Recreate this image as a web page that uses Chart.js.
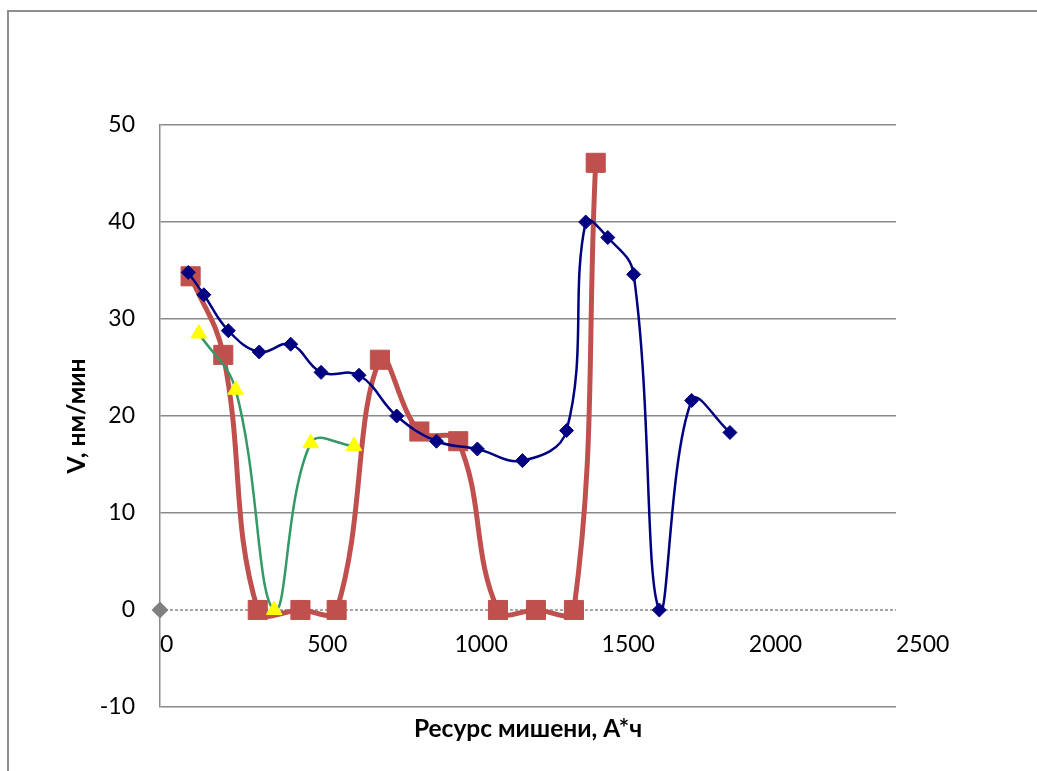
<!DOCTYPE html>
<html>
<head>
<meta charset="utf-8">
<script src="https://cdn.jsdelivr.net/npm/chart.js@4"></script>
<style>
html, body { margin: 0; padding: 0; background: #fff; overflow: hidden; }
#wrap { position: relative; width: 1037px; height: 771px; overflow: hidden; }
#frame { position: absolute; left: 7px; top: 10px; width: 1100px; height: 800px; border: 2px solid #8e8e8e; }
canvas { position: absolute; left: 0; top: 0; }
</style>
</head>
<body>
<div id="wrap"><div id="frame"></div><canvas id="chart" width="1037" height="771"></canvas></div>
<script>
// values
var blueX = [96, 149, 232, 337, 444, 547, 676, 804, 939, 1078, 1231, 1381, 1446, 1521, 1609, 1696, 1806, 1936];
var blueY = [34.8, 32.5, 28.8, 26.6, 27.4, 24.5, 24.2, 20.0, 17.4, 16.6, 15.4, 18.5, 40.0, 38.4, 34.6, 0, 21.6, 18.3];
var redX = [104, 215, 332, 477, 600, 747, 881, 1013, 1148, 1277, 1406, 1480];
var redY = [34.4, 26.3, 0, 0, 0, 25.8, 18.4, 17.4, 0, 0, 0, 46.1];
var yellowX = [132, 257, 388, 512, 659];
var yellowY = [28.5, 22.7, 0, 17.2, 16.9];
// zero reference series: marker at the origin, dotted line along y = 0
var zeroX = [0, 2500];
var zeroY = [0, 0];

var xTitle = 'Ресурс мишени, А*ч';
var yTitle = 'V, нм/мин';

function pts(xs, ys) {
  return xs.map(function (x, i) { return {x: x, y: ys[i]}; });
}

Chart.defaults.font.family = "Lato, 'Noto Sans', sans-serif";
Chart.defaults.color = '#000';

var context = document.getElementById('chart').getContext('2d');
var chart = new Chart(context, {
  type: 'line',
  data: {
    datasets: [
      {
        data: pts(zeroX, zeroY),
        borderColor: '#a6a6a6',
        borderWidth: 2,
        borderDash: [3, 2],
        pointStyle: 'rectRot',
        pointRadius: function (c) { return c.dataIndex === 0 ? 7 : 0; },
        pointBackgroundColor: '#808080',
        pointBorderColor: '#808080',
        order: 4,
        clip: false
      },
      {
        data: pts(blueX, blueY),
        borderColor: '#000080',
        borderWidth: 2.5,
        tension: 0.4,
        pointStyle: 'rectRot',
        pointRadius: 7,
        pointBackgroundColor: '#000080',
        pointBorderColor: '#000080',
        pointBorderWidth: 1,
        order: 1,
        clip: false
      },
      {
        data: pts(yellowX, yellowY),
        borderColor: '#339966',
        borderWidth: 2.5,
        tension: 0.4,
        pointStyle: 'triangle',
        pointRadius: 9,
        pointBackgroundColor: '#ffff00',
        pointBorderColor: '#ffff00',
        pointBorderWidth: 1,
        order: 2,
        clip: false
      },
      {
        data: pts(redX, redY),
        borderColor: '#c0504d',
        borderWidth: 5,
        tension: 0.4,
        pointStyle: 'rect',
        pointRadius: 13.5,
        pointBackgroundColor: '#c0504d',
        pointBorderColor: '#c0504d',
        pointBorderWidth: 1,
        order: 3,
        clip: false
      }
    ]
  },
  options: {
    responsive: false,
    animation: false,
    layout: { padding: { left: 0, top: 125, right: 141, bottom: 0 } },
    plugins: { legend: { display: false }, tooltip: { enabled: false } },
    scales: {
      x: {
        type: 'linear',
        position: 'bottom',
        min: 0, max: 2500,
        ticks: { display: false },
        grid: { display: false },
        border: { display: false },
        title: { display: true, text: xTitle, font: { size: 24.5, weight: 'bold' }, padding: { top: 0, bottom: 27 } },
        afterFit: function (s) { s.height = 64; s.paddingLeft = 0; s.paddingRight = 0; }
      },
      x2: {
        type: 'linear',
        axis: 'x',
        position: { y: 0 },
        min: 0, max: 2500,
        ticks: {
          stepSize: 500, align: 'start', padding: 21, maxRotation: 0, autoSkip: false, font: { size: 23 },
          callback: function (v) { return String(v); }
        },
        grid: { display: false, drawTicks: false },
        border: { display: false },
        afterFit: function (s) { s.height = 0; s.paddingLeft = 0; s.paddingRight = 0; }
      },
      y: {
        type: 'linear',
        min: -10, max: 50,
        ticks: { stepSize: 10, padding: 25, font: { size: 23 } },
        grid: {
          color: function (c) { return c.tick && c.tick.value === 0 ? 'rgba(0,0,0,0)' : '#8a8a8a'; },
          lineWidth: 1.5,
          drawTicks: false
        },
        border: { color: '#8a8a8a', width: 1.5 },
        title: { display: true, text: yTitle, font: { size: 24.5, weight: 'bold' }, padding: { top: 62, bottom: 0 } },
        afterFit: function (s) { s.width = 160; }
      }
    }
  }
});
</script>
</body>
</html>
